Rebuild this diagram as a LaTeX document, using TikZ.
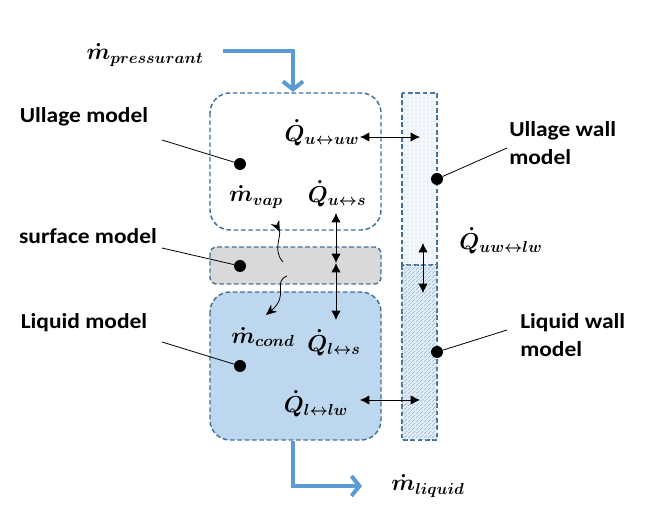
\documentclass[tikz,border=0pt]{standalone}
\usepackage{fontspec}
\setmainfont{Carlito}[FakeStretch=1.1]
\usepackage{amsmath}
\usepackage{bm}
\DeclareMathSizes{16}{17}{12.5}{10}
\usetikzlibrary{arrows.meta,patterns,positioning}
\definecolor{edge}{HTML}{41719C}
\definecolor{flow}{HTML}{5B9BD5}
\definecolor{surf}{HTML}{D9D9D9}
\definecolor{liq}{HTML}{BDD7EE}
\definecolor{wall}{HTML}{E3EEF9}

\begin{document}
\begin{tikzpicture}[x=0.75pt,y=-0.75pt]
		\tikzstyle {box} = [draw=edge, line width=1.1pt, dash pattern=on 3.5pt off 2pt]
		\tikzstyle {spot} = [circle, fill=black, inner sep=0pt, minimum size=9pt]
		\tikzstyle {heat} = [{Latex[length=7pt,width=7pt]}-{Latex[length=7pt,width=7pt]}, line width=0.6pt]
		\tikzstyle {stream} = [draw=flow, line width=3pt, -{Straight Barb[length=6pt,width=15pt]}]
		\tikzstyle {wave} = [line width=0.6pt]
		\tikzstyle {tag} = [font=\fontsize{16}{21}\selectfont\bfseries, inner sep=0pt]
		\tikzstyle {qty} = [font=\fontsize{16}{18}\selectfont\boldmath, inner sep=0pt]

		\useasboundingbox (0,0) rectangle (647,530);

		\draw[box, fill=white, rounded corners=15pt] (210,93) rectangle (381,230);
		\draw[box, fill=surf, rounded corners=5pt] (210,247) rectangle (381,284);
		\draw[box, fill=liq, rounded corners=15pt] (210,292) rectangle (381,440);
		\draw[box, fill=wall!40, postaction={pattern=dots, pattern color=edge!30}] (402,93) rectangle (437,265);
		\draw[box, fill=wall, postaction={pattern=north east lines, pattern color=edge!55}] (402,265) rectangle (437,440);

		\node[spot] (ullage) at (240,164) {};
		\node[spot] (surface) at (240,266) {};
		\node[spot] (liquid) at (240,366) {};
		\node[spot] (uwall) at (437,179) {};
		\node[spot] (lwall) at (437,352) {};

		\node[tag] (ullagetag) at (84,117) {Ullage model};
		\node[tag] (surfacetag) at (88,236) {surface model};
		\node[tag] (liquidtag) at (84,323) {Liquid model};
		\node[tag, anchor=west, align=left] (uwalltag) at (509,143) {Ullage wall\\model};
		\node[tag, anchor=west, align=left] (lwalltag) at (520,335) {Liquid wall\\model};

		\coordinate (ullagelead) at (162,140);
		\coordinate (surfacelead) at (162,248);
		\coordinate (liquidlead) at (162,342);
		\coordinate (uwalllead) at (507,148);
		\coordinate (lwalllead) at (507,330);
		\draw[line width=0.6pt] (ullagelead) -- (ullage);
		\draw[line width=0.6pt] (surfacelead) -- (surface);
		\draw[line width=0.6pt] (liquidlead) -- (liquid);
		\draw[line width=0.6pt] (uwalllead) -- (uwall);
		\draw[line width=0.6pt] (lwalllead) -- (lwall);

		\node[qty] (mpress) at (145,55) {$\dot m_{pressurant}$};
		\node[qty] (mliq) at (428,486) {$\dot m_{liquid}$};
		\coordinate (pressin) at (223,51);
		\coordinate (ullagetop) at (293,92);
		\coordinate (liquidbot) at (293,441);
		\coordinate (liqout) at (362,486);
		\draw[stream] (pressin) -| (ullagetop);
		\draw[stream] (liquidbot) |- (liqout);

		\node[qty] (quuw) at (322,133) {$\dot Q_{u\leftrightarrow uw}$};
		\node[qty] (qus) at (337,194) {$\dot Q_{u\leftrightarrow s}$};
		\node[qty] (qls) at (334,343) {$\dot Q_{l\leftrightarrow s}$};
		\node[qty] (qllw) at (316,404) {$\dot Q_{l\leftrightarrow lw}$};
		\node[qty] (quwlw) at (501,241) {$\dot Q_{uw\leftrightarrow lw}$};
		\node[qty] (mvap) at (256,197) {$\dot m_{vap}$};
		\node[qty] (mcond) at (263,337) {$\dot m_{cond}$};

		\coordinate (uu) at (360,137);
		\coordinate (uwu) at (420,137);
		\coordinate (us) at (336,213);
		\coordinate (sc) at (336,263);
		\coordinate (ls) at (336,320);
		\coordinate (uwl) at (423,243);
		\coordinate (lwl) at (423,293);
		\coordinate (ll) at (360,400);
		\coordinate (lwll) at (420,400);
		\draw[heat] (uu) -- (uwu);
		\draw[heat] (us) -- (sc);
		\draw[heat] (sc) -- (ls);
		\draw[heat] (uwl) -- (lwl);
		\draw[heat] (ll) -- (lwll);

		\coordinate (vapfrom) at (283,262);
		\coordinate (vapto) at (275,222);
		\coordinate (condfrom) at (287,276);
		\coordinate (condto) at (266,315);
		\draw[wave, -{Stealth[length=8pt,width=7pt,reversed]}] (vapfrom) .. controls (272,250) and (282,236) .. (vapto);
		\draw[wave, -{Stealth[length=8pt,width=7pt]}] (condfrom) .. controls (272,282) and (290,295) .. (condto);
\end{tikzpicture}
\end{document}
